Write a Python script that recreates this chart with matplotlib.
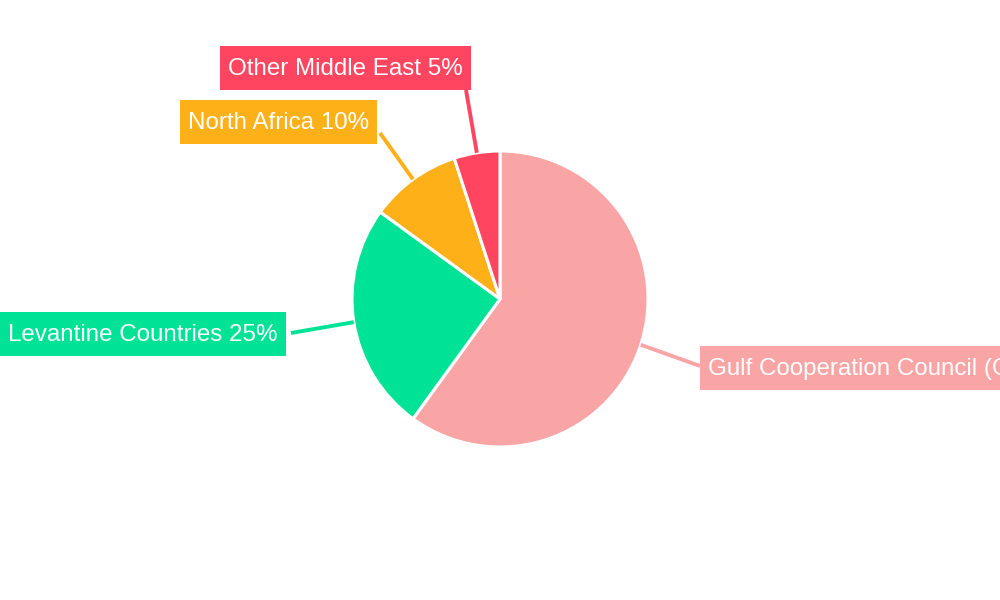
import numpy as np
import matplotlib
matplotlib.use("Agg")
import matplotlib.pyplot as plt
from matplotlib.patches import Rectangle

plt.rcParams['font.family'] = ['Liberation Sans', 'DejaVu Sans']

regions = ['Gulf Cooperation Council (GCC)', 'Levantine Countries', 'North Africa', 'Other Middle East']
shares = [60, 25, 10, 5]
colors = ['#F9A5A6', '#00E396', '#FEB019', '#FF4560']

# label layout in pixel space (x, y from top): box left/center row and line end
label_pos = [(700, 368), (0, 334), (180, 122), (220, 68)]
line_end = [(700, 366), (291, 333), (380, 133), (466, 90)]
pad_x, box_h = 8, 44

W, H = 1000, 600
cx, cy, r = 500, 299, 148

fig = plt.figure(figsize=(10, 6), dpi=100)
ax = fig.add_axes([0, 0, 1, 1])

wedges, _ = ax.pie(shares, colors=colors, startangle=90, counterclock=False,
                   center=(cx, H - cy), radius=r, frame=True,
                   wedgeprops=dict(edgecolor='white', linewidth=2.2))
ax.set_xlim(0, W)
ax.set_ylim(0, H)
ax.set_aspect('equal')
ax.axis('off')

renderer = fig.canvas.get_renderer()
total = sum(shares)
start = 0
for name, val, col, (bx, by), (ex, ey) in zip(regions, shares, colors, label_pos, line_end):
    mid = np.deg2rad((start + val / 2) / total * 360)
    start += val
    px = cx + r * np.sin(mid)
    py = cy - r * np.cos(mid)
    ax.plot([px, ex], [H - py, H - ey], color=col, lw=2.8, zorder=1,
            solid_capstyle='butt', clip_on=False)
    t = ax.text(bx + pad_x, H - by - 1, f'{name} {val}%', ha='left', va='center',
                fontsize=17.4, color='white', zorder=3, clip_on=True)
    tw = t.get_window_extent(renderer).width
    ax.add_patch(Rectangle((bx, H - by - box_h / 2), tw + 2 * pad_x, box_h,
                           facecolor=col, edgecolor='none', zorder=2))

fig.savefig('out.png', dpi=100)
